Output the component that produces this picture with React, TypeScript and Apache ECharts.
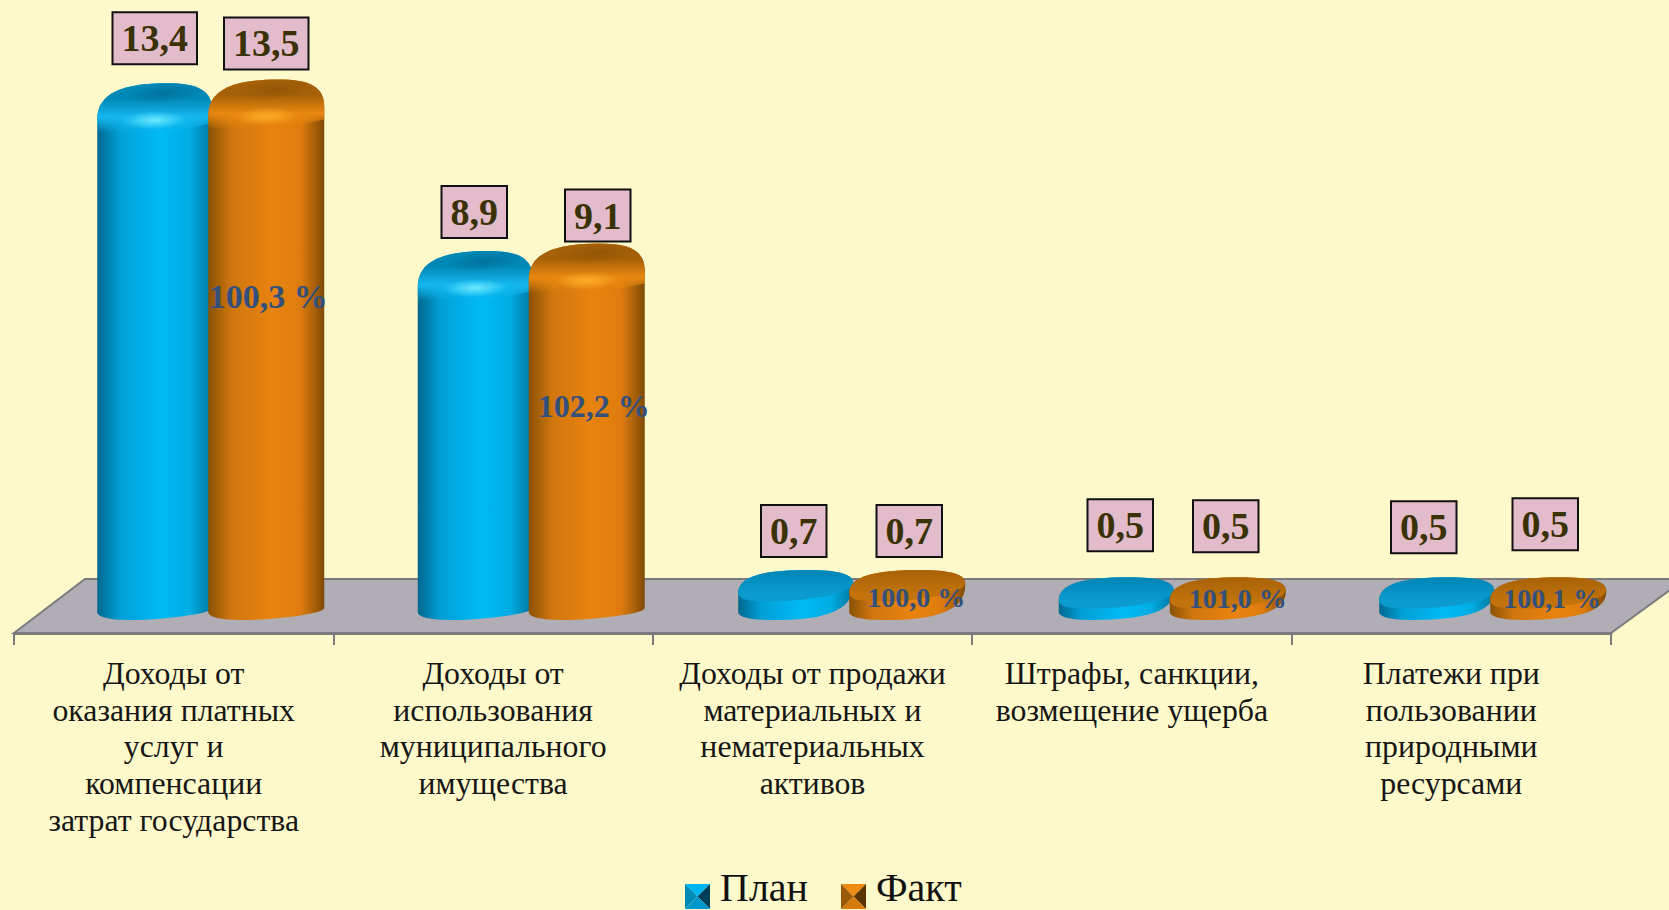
import React, { useEffect, useRef } from "react";
import * as echarts from "echarts";

const categories = [
  "Доходы от\nоказания платных\nуслуг и\nкомпенсации\nзатрат государства",
  "Доходы от\nиспользования\nмуниципального\nимущества",
  "Доходы от продажи\nматериальных и\nнематериальных\nактивов",
  "Штрафы, санкции,\nвозмещение ущерба",
  "Платежи при\nпользовании\nприродными\nресурсами",
];
const planValues = [13.4, 8.9, 0.7, 0.5, 0.5];
const factValues = [13.5, 9.1, 0.7, 0.5, 0.5];
const percentLabels = ["100,3 %", "102,2 %", "100,0 %", "101,0 %", "100,1 %"];

// layout nudges for the hand-placed boxes of the original slide
const planBoxNudge = [[0, 19], [-1, 13], [-2, 12], [4, 25], [-13, 23]];
const factBoxNudge = [[0, 10], [11, 2], [2, 12], [-2, 24], [-3, 26]];
const percentNudge = [2, 7, 9, 10, 4];
const percentNudgeY = [-3, 3, -2, -1, -1];
const percentFont = [34, 32, 28, 28, 28];

const palette = {
  plan: {
    edgeL: "#00688f", mid1: "#00a0d6", mid2: "#00baf5", mid3: "#00ade4", edgeR: "#00759f",
    top: "#0088b6", lip: "#14b8f0", spot: "rgba(110,235,255,0.95)", cap: "rgba(0,105,145,0.75)",
    faceA: "#0085b5", faceB: "#0b9bcf",
  },
  fact: {
    edgeL: "#8a5205", mid1: "#d0760e", mid2: "#e9830f", mid3: "#dd7c0d", edgeR: "#7f4a05",
    top: "#a56008", lip: "#e98810", spot: "rgba(255,175,40,0.95)", cap: "rgba(140,82,5,0.75)",
    faceA: "#a86208", faceB: "#c2730b",
  },
};

// icon square sits at the bottom of a taller transparent image so the legend text can ride higher
const legendIcon = (a: string, b: string, c: string, d: string) =>
  "image://data:image/svg+xml," +
  encodeURIComponent(
    `<svg xmlns="http://www.w3.org/2000/svg" width="25" height="43"><g transform="translate(0 18)">` +
      `<polygon points="0,0 25,0 12.5,12.5" fill="${a}"/>` +
      `<polygon points="25,0 25,25 12.5,12.5" fill="${b}"/>` +
      `<polygon points="25,25 0,25 12.5,12.5" fill="${c}"/>` +
      `<polygon points="0,25 0,0 12.5,12.5" fill="${d}"/></g></svg>`
  );

const grad = (x2: number, y2: number, stops: [number, string][]) => ({
  type: "linear", x: 0, y: 0, x2, y2, global: false,
  colorStops: stops.map(([offset, color]) => ({ offset, color })),
});
const radial = (color: string) => ({
  type: "radial", x: 0.5, y: 0.5, r: 0.5, global: false,
  colorStops: [
    { offset: 0, color },
    { offset: 1, color: color.replace(/[\d.]+\)$/, "0)") },
  ],
});

const makeRender = (
  col: typeof palette.plan,
  offset: number,
  width: number,
  nudges: number[][],
  showPercent: boolean
) => (params: any, api: any) => {
  const i = api.value(0);
  const v = api.value(1);
  const [cx, yt] = api.coord([i, v]);
  const [, yb] = api.coord([i, 0]);
  const x0 = cx + offset;
  const W = width;
  const tall = yb - yt > 60;
  const dh = tall ? 36 : 23;
  const shoulder = tall ? 8 : 10;

  const topEdge =
    `M${x0} ${yt} C${x0} ${yt - dh * 0.72} ${x0 + 0.22 * W} ${yt - dh} ${x0 + 0.6 * W} ${yt - dh} ` +
    `C${x0 + 0.88 * W} ${yt - dh} ${x0 + W} ${yt - dh * 0.8} ${x0 + W} ${yt - shoulder} `;
  const lower = tall
    ? `L${x0 + W} ${yb - 11} C${x0 + W} ${yb - 5} ${x0 + 0.55 * W} ${yb + 1} ${x0 + 0.3 * W} ${yb + 1} `
    : `L${x0 + W} ${yt - shoulder + 2} C${x0 + W} ${yb - 7} ${x0 + 0.72 * W} ${yb + 1} ${x0 + 0.3 * W} ${yb + 1} `;
  const outline = topEdge + lower + `C${x0 + 0.1 * W} ${yb + 1} ${x0} ${yb - 2} ${x0} ${yb - 7} Z`;
  const capPath = tall
    ? topEdge + `L${x0 + W} ${yt + 4} Q${x0 + 0.5 * W} ${yt + 18} ${x0} ${yt + 12} Z`
    : topEdge +
      `C${x0 + W} ${yt + 2} ${x0 + 0.5 * W} ${yt + 10} ${x0 + 0.18 * W} ${yt + 8} C${x0 + 0.06 * W} ${yt + 8} ${x0} ${yt + 5} ${x0} ${yt} Z`;

  const children: any[] = [
    {
      type: "path",
      shape: { pathData: outline },
      style: {
        fill: grad(1, 0, [
          [0, col.edgeL], [0.2, col.mid1], [0.55, col.mid2], [0.8, col.mid3], [1, col.edgeR],
        ]),
      },
    },
    {
      type: "path",
      shape: { pathData: capPath },
      style: {
        fill: tall
          ? grad(0, 1, [
              [0, col.top], [0.3, col.top], [0.68, col.lip], [0.84, col.lip + "88"], [1, col.lip + "00"],
            ])
          : grad(0, 1, [[0, col.faceA], [0.75, col.faceB], [1, col.faceB]]),
      },
    },
  ];
  if (tall) {
    children.push(
      {
        type: "ellipse",
        x: x0 + 0.58 * W, y: yt - dh + 10, rotation: 0.1,
        shape: { cx: 0, cy: 0, rx: 0.34 * W, ry: 10 },
        style: { fill: radial(col.cap.replace("0.75", "0.7")) },
      },
      {
        type: "ellipse",
        x: x0 + 0.5 * W, y: yt + 1, rotation: 0.03,
        shape: { cx: 0, cy: 0, rx: 0.28 * W, ry: 9 },
        style: { fill: radial(col.spot) },
      }
    );
  }

  const [ndx, ngap] = nudges[i];
  const boxH = 54;
  children.push({
    type: "text",
    x: x0 + W / 2 + ndx,
    y: yt - dh - ngap - boxH / 2 + (tall ? 1 : 0),
    z2: 10,
    style: {
      text: v.toFixed(1).replace(".", ","),
      font: "bold 38px 'Liberation Serif'",
      fill: "#3a3105",
      align: "center",
      verticalAlign: "middle",
      backgroundColor: "#e3bccb",
      borderColor: "#111111",
      borderWidth: 2,
      padding: [6, 8, 6, 8],
    },
  });
  if (showPercent) {
    const h = yb - yt;
    children.push({
      type: "text",
      x: x0 + W / 2 + percentNudge[i],
      y: Math.min(yb - 20, yb - 0.635 * h) + percentNudgeY[i],
      z2: 10,
      style: {
        text: percentLabels[i],
        font: `bold ${percentFont[i]}px 'Liberation Serif'`,
        fill: "#33507c",
        align: "center",
        verticalAlign: "middle",
      },
    });
  }
  return { type: "group", children };
};

export default function App() {
  const ref = useRef<HTMLDivElement>(null);
  useEffect(() => {
    document.body.style.margin = "0";
    document.body.style.background = "#fef9ca";
    const chart = echarts.init(ref.current!, null, { renderer: "svg" });
    chart.setOption({
      animation: false,
      backgroundColor: "#fef9ca",
      grid: [
        { left: 50, width: 1602.5, top: 59.5, height: 559.5 },
        { left: 14, width: 1597, top: 579, height: 54 },
      ],
      xAxis: [
        { type: "category", gridIndex: 0, data: categories, show: false },
        {
          type: "category",
          gridIndex: 1,
          data: categories,
          axisLine: { show: true, lineStyle: { color: "#7b7b7f", width: 3 } },
          axisTick: { show: true, length: 12, lineStyle: { color: "#7b7b7f", width: 2 } },
          axisLabel: {
            interval: 0,
            margin: 22,
            fontFamily: "'Liberation Serif'",
            fontSize: 31.8,
            lineHeight: 36.7,
            color: "#161616",
            verticalAlign: "top",
          },
        },
      ],
      yAxis: [
        { type: "value", gridIndex: 0, min: 0, max: 15, show: false },
        { type: "value", gridIndex: 1, min: 0, max: 1, show: false },
      ],
      legend: {
        left: 685,
        top: 866,
        padding: 0,
        itemWidth: 25,
        itemHeight: 43,
        itemGap: 33,
        selectedMode: false,
        textStyle: {
          fontFamily: "'Liberation Serif'",
          fontSize: 40,
          lineHeight: 43,
          color: "#111111",
          padding: [0, 0, 0, 5],
        },
        data: [
          { name: "План", icon: legendIcon("#00b6f2", "#003f58", "#0097cc", "#008ab8") },
          { name: "Факт", icon: legendIcon("#ee8a10", "#5a3503", "#d57a0c", "#9a5a08") },
        ],
      },
      graphic: {
        elements: [
          {
            type: "polygon",
            z: -1,
            shape: { points: [[14, 633], [85, 579], [1685, 579], [1611, 633]] },
            style: { fill: "#b0adb4", stroke: "#7b7b7f", lineWidth: 2 },
          },
        ],
      },
      series: [
        {
          name: "План",
          type: "custom",
          coordinateSystem: "cartesian2d",
          xAxisIndex: 0,
          yAxisIndex: 0,
          clip: false,
          z: 3,
          itemStyle: { color: "#00b6f2" },
          encode: { x: 0, y: 1 },
          data: planValues.map((v, i) => [i, v]),
          renderItem: makeRender(palette.plan, -113, 115, planBoxNudge, false),
        },
        {
          name: "Факт",
          type: "custom",
          coordinateSystem: "cartesian2d",
          xAxisIndex: 0,
          yAxisIndex: 0,
          clip: false,
          z: 4,
          itemStyle: { color: "#e9830f" },
          encode: { x: 0, y: 1 },
          data: factValues.map((v, i) => [i, v]),
          renderItem: makeRender(palette.fact, -2, 116, factBoxNudge, true),
        },
      ],
    });
    return () => chart.dispose();
  }, []);
  return <div ref={ref} style={{ width: 1669, height: 910 }} />;
}
